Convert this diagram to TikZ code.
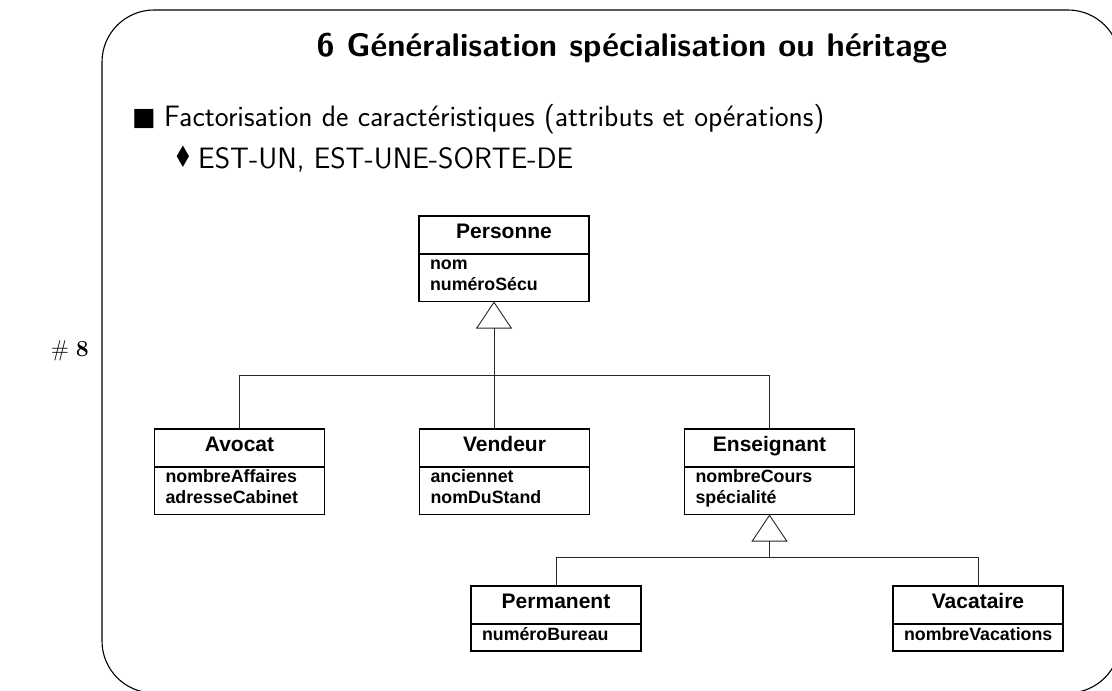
\documentclass[tikz,border=0pt]{standalone}
\usepackage{fontspec}
\newfontfamily\umlfont{Liberation Sans}
\newfontfamily\symfont{DejaVu Sans}
\usetikzlibrary{positioning,arrows.meta,calc}
\tikzset{
  classname/.style={draw=black, line width=1.1pt, outer sep=0pt, inner xsep=0pt, inner ysep=8.5pt,
    minimum width=170pt, text height=13.5pt, text depth=7.5pt,
    font=\umlfont\bfseries\fontsize{21}{24}\selectfont},
  classattr/.style={draw=black, line width=1.1pt, outer sep=0pt, inner xsep=11pt, inner ysep=0pt,
    text width=148pt, align=left, text height=15pt, text depth=32.5pt,
    font=\umlfont\bfseries\fontsize{17.8}{21}\selectfont},
  oneline/.style={text height=16pt, text depth=11pt},
  herit/.style={draw=black!85, line width=0.9pt,
    -{Triangle[open, width=36pt, length=27pt, line width=0.9pt]}},
  link/.style={draw=black!85, line width=0.9pt},
  frame/.style={draw=black, line width=1.1pt, rounded corners=52pt}
}

\begin{document}
\begin{tikzpicture}[x=1pt,y=-1pt]
  \useasboundingbox (0,0) rectangle (1112,691);
  \draw[frame] (102,10) rectangle (1120,693);
  % slide header and bullets
  \node[anchor=base, font=\sffamily\bfseries\fontsize{32.7}{38}\selectfont] (title) at (632,56)
    {6 Généralisation spécialisation ou héritage};
  \node[anchor=base west, inner sep=0pt, font=\symfont\fontsize{25}{30}\selectfont] (sq) at (132,125) {■};
  \node[anchor=base west, inner sep=0pt, font=\sffamily\fontsize{29.5}{34}\selectfont] (item1) at (164,126)
    {Factorisation de caractéristiques (attributs et opérations)};
  \node[anchor=base west, inner sep=0pt, yscale=1.35, transform shape,
    font=\symfont\fontsize{22}{26}\selectfont] (lz) at (173,167) {♦};
  \node[anchor=base west, inner sep=0pt, font=\sffamily\fontsize{29.5}{34}\selectfont] (item2) at (198,168)
    {EST-UN, EST-UNE-SORTE-DE};
  \node[anchor=base east, inner sep=0pt, font=\fontsize{23}{26}\selectfont] (num) at (89,356)
    {$\#$ \textbf{8}};
  % classes
  \node[classname] (persN) at (504,235) {Personne};
  \node[classattr, below=0pt of persN] (persA) {nom\\numéroSécu};
  \node[classname] (avocN) at (239.5,448) {Avocat};
  \node[classattr, below=0pt of avocN] (avocA) {nombreAffaires\\adresseCabinet};
  \node[classname] (vendN) at (504.5,448) {Vendeur};
  \node[classattr, below=0pt of vendN] (vendA) {anciennet\\nomDuStand};
  \node[classname] (ensN) at (769.5,448) {Enseignant};
  \node[classattr, below=0pt of ensN] (ensA) {nombreCours\\spécialité};
  \node[classname] (permN) at (556,605) {Permanent};
  \node[classattr, oneline, below=0pt of permN] (permA) {numéroBureau};
  \node[classname] (vacaN) at (978,605) {Vacataire};
  \node[classattr, oneline, below=0pt of vacaN] (vacaA) {nombreVacations};
  % generalisation links
  \coordinate (top1) at ([xshift=-10pt]persA.south);
  \path (top1) ++(0,74) coordinate (bus1);
  \draw[herit] (vendN.north -| top1) -- (top1);
  \draw[link] (avocN.north) |- (bus1) -| (ensN.north);
  \coordinate (top2) at (ensA.south);
  \path (top2) ++(0,43) coordinate (bus2);
  \draw[herit] (bus2) -- (top2);
  \draw[link] (permN.north) |- (bus2) -| (vacaN.north);
\end{tikzpicture}
\end{document}
